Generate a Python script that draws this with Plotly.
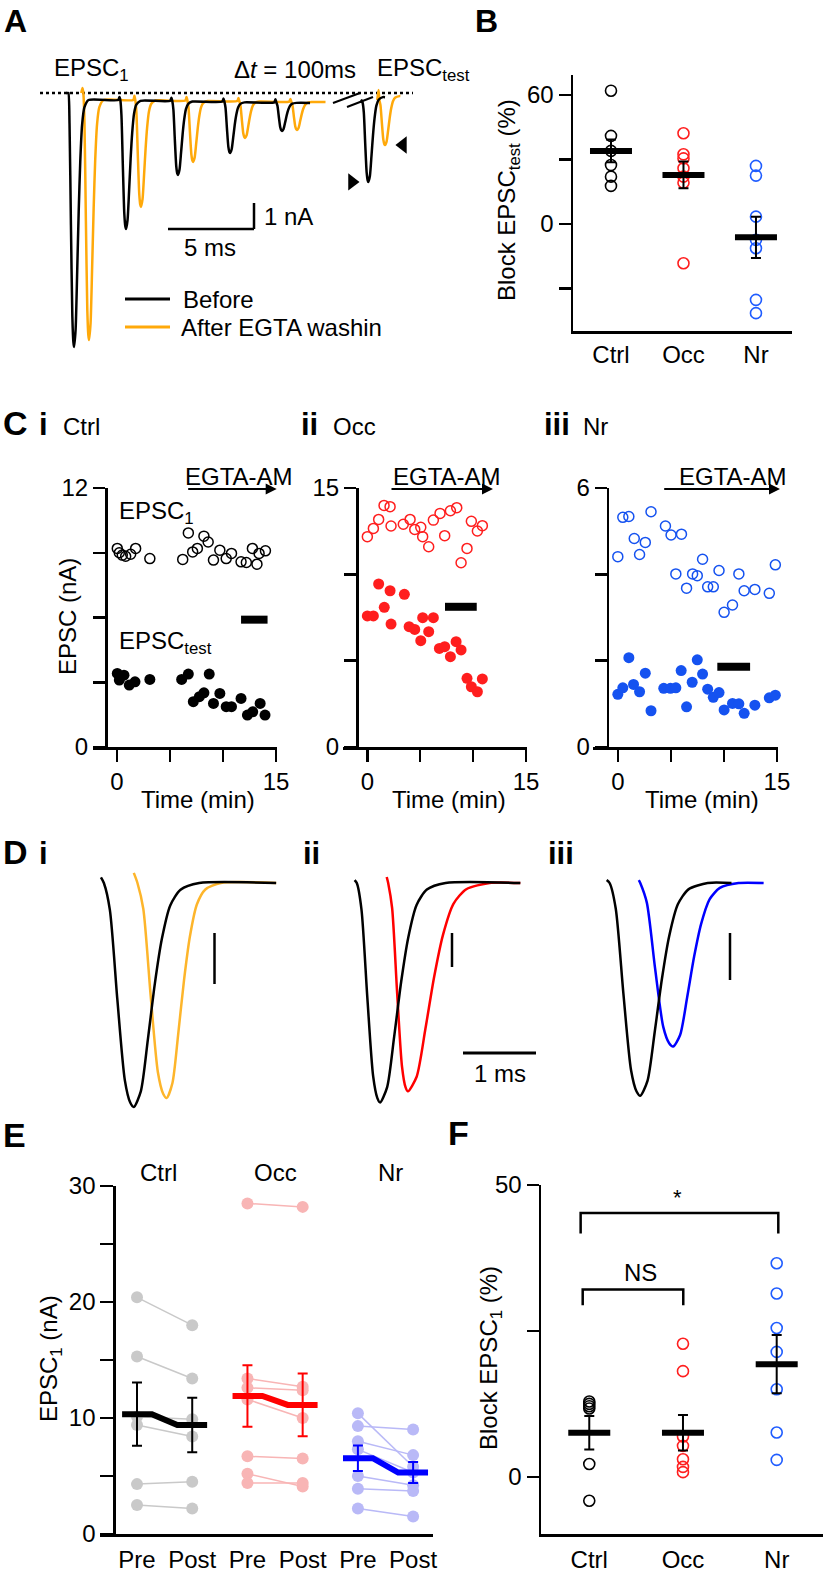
import plotly.graph_objects as go

W, H = 826, 1572
FONT = "Liberation Sans, Arial, Helvetica, sans-serif"
FS = 24

# ====================== DATA ======================
# --- Panel A: EPSC trains (peak time ms, amplitude nA, residual baseline nA, stim artifact nA)
a_black_peak = [1.98, 5.00, 8.02, 11.05, 14.07]
a_black_amp = [9.77, 5.23, 3.15, 2.31, 1.46]
a_black_base = [-0.27, -0.30, -0.33, -0.36, -0.38]
a_black_art = [0.0, 0.12, 0.12, 0.12, 0.12]
a_orange_peak = [2.85, 5.87, 8.90, 11.92, 14.94]
a_orange_amp = [9.50, 4.38, 2.65, 1.73, 1.42]
a_orange_base = [-0.27, -0.29, -0.31, -0.33, -0.35]
a_orange_art = [0.19, 0.16, 0.14, 0.12, 0.10]
a_test_peak = [19.09, 20.06]          # before, after
a_test_amp = [3.42, 2.00]
a_test_base_before = [-0.38, -0.27]
a_test_base_after = [-0.16, -0.12]
a_test_art = [0.10, 0.39]
a_train_end = [15.7, 16.6]
a_test_end = [20.06, 20.95]
a_legend = ["Before", "After EGTA washin"]

# normalised EPSC waveform (fraction of time / fraction of peak)
rise_u = [0.0, 0.2, 0.45, 0.7, 0.88, 1.0]
rise_f = [0.0, 0.12, 0.52, 0.88, 0.98, 1.0]
decay_v = [0.15, 0.3, 0.45, 0.6, 0.78, 1.0, 1.4]
decay_f = [0.93, 0.7, 0.45, 0.25, 0.1, 0.03, 0.0]

# --- Panel B: block of EPSC_test (%)
groups = ["Ctrl", "Occ", "Nr"]
b_ctrl = [62.0, 41.0, 34.0, 27.4, 22.0, 17.7]
b_occ = [42.2, 32.4, 30.5, 25.9, 22.0, 19.2, -18.3]
b_nr = [27.0, 22.5, 3.4, -7.4, -11.3, -35.3, -41.5]
b_mean = [34.0, 22.8, -6.2]
b_sem = [5.3, 6.2, 9.6]

# --- Panel C: time courses (min, nA)
ci_t1 = [0.03, 0.22, 0.5, 0.82, 1.29, 1.76, 3.1, 6.2, 6.73, 7.14, 7.58, 8.2, 8.6, 9.1, 9.7, 10.3, 10.8, 11.7, 12.2, 12.77, 13.2, 13.4, 14.0]
ci_y1 = [9.2, 9.0, 8.89, 8.84, 8.93, 9.2, 8.73, 8.69, 9.92, 9.04, 9.2, 9.77, 9.5, 8.66, 9.12, 8.73, 8.97, 8.58, 8.55, 9.2, 8.47, 8.97, 9.09]
ci_t2 = [0.03, 0.22, 0.66, 1.16, 1.7, 3.1, 6.1, 6.73, 8.7, 7.2, 7.77, 8.2, 9.1, 9.7, 10.3, 10.8, 11.7, 12.3, 12.8, 13.5, 13.96]
ci_y2 = [3.41, 3.1, 3.33, 2.87, 3.02, 3.13, 3.13, 3.38, 3.38, 2.1, 2.33, 2.51, 2.02, 2.48, 1.87, 1.87, 2.25, 1.48, 1.63, 2.02, 1.48]
ci_bar_t = [11.7, 14.2]
ci_bar_y = 5.9

cii_t1 = [0.0, 0.57, 1.07, 1.58, 2.15, 2.24, 3.4, 4.04, 4.48, 5.05, 5.23, 5.8, 6.24, 6.87, 7.31, 7.85, 8.45, 8.86, 9.42, 9.83, 10.4, 10.87]
cii_y1 = [12.18, 12.66, 13.18, 13.99, 13.92, 12.8, 12.9, 13.18, 12.6, 12.72, 12.18, 11.6, 13.14, 13.53, 12.24, 13.68, 13.86, 10.67, 11.5, 13.07, 12.51, 12.82]
cii_t2 = [0.0, 0.57, 1.07, 1.6, 2.15, 2.24, 3.5, 3.95, 4.48, 5.05, 5.23, 5.8, 6.24, 6.81, 7.31, 7.85, 8.39, 8.86, 9.42, 9.83, 10.4, 10.87]
cii_y2 = [7.59, 7.59, 9.44, 8.09, 9.05, 7.12, 8.84, 6.97, 6.81, 6.16, 7.49, 6.68, 7.49, 5.71, 5.81, 5.23, 6.1, 5.62, 3.98, 3.49, 3.2, 3.94]
cii_bar_t = [7.34, 10.34]
cii_bar_y = 8.12

ciii_t1 = [0.0, 0.47, 1.04, 1.55, 2.05, 2.59, 3.13, 4.49, 5.02, 6.0, 5.47, 6.48, 7.05, 7.49, 7.99, 8.47, 9.0, 9.54, 10.02, 10.81, 11.41, 11.91, 12.92, 14.28, 14.85]
ciii_y1 = [4.41, 5.32, 5.34, 4.83, 4.46, 4.74, 5.45, 5.12, 4.91, 4.93, 4.01, 3.68, 4.01, 3.97, 4.35, 3.71, 3.71, 4.09, 3.12, 3.29, 4.01, 3.62, 3.65, 3.56, 4.22]
ciii_t2 = [0.0, 0.47, 1.04, 1.48, 2.05, 2.59, 3.13, 4.33, 4.96, 5.47, 5.97, 6.48, 7.01, 7.49, 7.99, 8.47, 9.0, 9.54, 10.02, 10.81, 11.41, 11.91, 12.92, 14.28, 14.85]
ciii_y2 = [1.22, 1.37, 2.07, 1.45, 1.28, 1.71, 0.84, 1.36, 1.36, 1.37, 1.77, 0.93, 1.5, 2.02, 1.69, 1.34, 1.15, 1.26, 0.86, 1.01, 1.0, 0.78, 0.97, 1.14, 1.2]
ciii_bar_t = [9.38, 12.47]
ciii_bar_y = 1.86

# --- Panel D: normalised EPSC1 traces (ms, fraction)  order: i-before, i-after, ii-before, ii-after, iii-before, iii-after
d_start = [0.15, 0.60, 0.20, 0.64, 0.16, 0.60]
d_hook = [0.025, 0.045, 0.013, 0.027, 0.013, 0.013]
d_onset = [0.19, 0.65, 0.23, 0.66, 0.20, 0.62]
d_peak = [0.60, 1.05, 0.55, 0.93, 0.62, 1.07]
d_decay = [0.64, 0.53, 0.64, 0.80, 0.66, 0.64]
d_amp = [1.00, 0.96, 0.98, 0.93, 0.95, 0.73]
d_end = [2.55, 2.55, 2.47, 2.47, 1.87, 2.31]

# --- Panel E: EPSC1 (nA) pre / post
e_ctrl_pre = [20.4, 15.3, 10.1, 9.4, 4.3, 2.5]
e_ctrl_post = [18.0, 13.4, 9.9, 8.4, 4.5, 2.2]
e_occ_pre = [28.5, 13.4, 12.6, 11.6, 6.7, 5.2, 4.4]
e_occ_post = [28.2, 12.7, 12.4, 10.0, 6.5, 4.1, 4.4]
e_nr_pre = [10.4, 9.3, 8.0, 7.3, 5.0, 3.9, 2.2]
e_nr_post = [5.8, 9.0, 6.8, 5.3, 4.2, 3.7, 1.5]
e_mean_pre = [10.33, 11.9, 6.54]
e_mean_post = [9.4, 11.13, 5.3]
e_sem_pre = [2.72, 2.65, 1.1]
e_sem_post = [2.35, 2.7, 0.9]
e_xlabels = ["Pre", "Post", "Pre", "Post", "Pre", "Post"]

# --- Panel F: block of EPSC1 (%)
f_ctrl = [12.9, 12.5, 12.1, 11.7, 2.2, -4.1]
f_occ = [22.8, 18.1, 6.9, 5.3, 3.0, 1.7, 0.8]
f_nr = [36.6, 31.4, 25.5, 21.4, 15.0, 7.6, 2.9]
f_mean = [7.55, 7.55, 19.3]
f_sem = [2.85, 3.05, 5.0]

# ====================== STYLE ======================
BLACK = "#000000"
ORANGE = "#FFA90A"
ORANGE_D = "#FDB52B"
RED = "#FF1E1E"
BLUE = "#1F5CFF"
BLUE_C = "#1552F0"
GRAY_L = "#C9C9C9"
PINK_L = "#F8B5B5"
BLUE_L = "#B9B9F7"

fig = go.Figure()
L = dict(template="none", width=W, height=H,
         margin=dict(l=0, r=0, t=0, b=0, pad=0, autoexpand=False),
         paper_bgcolor="white", plot_bgcolor="rgba(0,0,0,0)",
         font=dict(family=FONT, size=FS, color="black"), showlegend=False)
ann, shp = [], []


def sfx(n):
    return "" if n == 1 else str(n)


def axes(n, xpx, ypx, xr, yr, xkw=None, ykw=None):
    s = sfx(n)
    xa = dict(domain=[xpx[0] / W, xpx[1] / W], range=xr, anchor="y" + s, showgrid=False,
              zeroline=False, fixedrange=True, visible=False, automargin=False)
    ya = dict(domain=[1 - ypx[1] / H, 1 - ypx[0] / H], range=yr, anchor="x" + s, showgrid=False,
              zeroline=False, fixedrange=True, visible=False, automargin=False)
    if xkw:
        xa.update(xkw)
        xa["visible"] = True
    if ykw:
        ya.update(ykw)
        ya["visible"] = True
    L["xaxis" + s] = xa
    L["yaxis" + s] = ya


AXL = dict(showline=True, linecolor="black", linewidth=2.5, ticks="outside", ticklen=12,
           tickwidth=2.5, tickcolor="black", tickfont=dict(family=FONT, size=FS, color="black"))


def add(n, **kw):
    s = sfx(n)
    kw.setdefault("showlegend", False)
    kw.setdefault("cliponaxis", False)
    kw.setdefault("hoverinfo", "skip")
    fig.add_trace(go.Scatter(xaxis="x" + s, yaxis="y" + s, **kw))


def text(x, y, t, size=FS, xa="center", ya="middle", angle=0, ref=None):
    if ref is None:
        d = dict(x=x / W, y=1 - y / H, xref="paper", yref="paper")
    else:
        s = sfx(ref)
        d = dict(x=x, y=y, xref="x" + s, yref="y" + s)
    ann.append(dict(text=t, showarrow=False, xanchor=xa, yanchor=ya, textangle=angle,
                    font=dict(family=FONT, size=size, color="black"), **d))


def pline(x0, y0, x1, y1, w=2.5, color="black", ref=None):
    if ref is None:
        d = dict(x0=x0 / W, x1=x1 / W, y0=1 - y0 / H, y1=1 - y1 / H, xref="paper", yref="paper")
    else:
        s = sfx(ref)
        d = dict(x0=x0, x1=x1, y0=y0, y1=y1, xref="x" + s, yref="y" + s)
    shp.append(dict(type="line", line=dict(color=color, width=w), layer="above", **d))


def epsc_train(peaks, amps, bases, arts, rise, decay, t_end, base0=0.0):
    xs, ys = [], []
    base = base0
    for pt, a, b1, ar in zip(peaks, amps, bases, arts):
        on = pt - rise
        xs += [on - 0.12, on - 0.05]
        ys += [base, base + ar]
        for u, f in zip(rise_u, rise_f):
            xs.append(on + u * rise)
            ys.append(base + f * (-a - base))
        for v, f in zip(decay_v, decay_f):
            xs.append(pt + v * decay)
            ys.append(b1 + f * (-a - b1))
        base = b1
    if t_end > xs[-1]:
        xs.append(t_end)
        ys.append(base)
    return xs, ys


# ====================== PANEL A ======================
A = 1
PXMS, PXNA = 17.2, 26.0
axes(A, (40, 420), (60, 360), [0, 380 / PXMS], [-(360 - 93) / PXNA, (93 - 60) / PXNA])
RISE_A, DECAY_A = 0.33, 0.6
bx, by = epsc_train(a_black_peak, a_black_amp, a_black_base, a_black_art, RISE_A, DECAY_A, a_train_end[0])
ox, oy = epsc_train(a_orange_peak, a_orange_amp, a_orange_base, a_orange_art, RISE_A, DECAY_A, a_train_end[1])
add(A, x=ox, y=oy, mode="lines", line=dict(color=ORANGE, width=2.5, shape="spline", smoothing=0.6),
    name=a_legend[1])
add(A, x=bx, y=by, mode="lines", line=dict(color=BLACK, width=2.5, shape="spline", smoothing=0.6),
    name=a_legend[0])
tcol = [BLACK, ORANGE]
for i in [1, 0]:
    tx, ty = epsc_train([a_test_peak[i]], [a_test_amp[i]], [a_test_base_after[i]], [a_test_art[i]],
                        RISE_A, DECAY_A, a_test_end[i], base0=a_test_base_before[i])
    add(A, x=tx, y=ty, mode="lines", line=dict(color=tcol[i], width=2.5, shape="spline", smoothing=0.6))
# arrowheads pointing at EPSC_test peaks
add(A, x=[a_test_peak[0] - 0.95], y=[-a_test_amp[0]], mode="markers",
    marker=dict(symbol="triangle-right", size=15, color="black"))
add(A, x=[a_test_peak[1] + 1.04], y=[-a_test_amp[1]], mode="markers",
    marker=dict(symbol="triangle-left", size=15, color="black"))
# dotted baseline
shp.append(dict(type="line", xref="x", yref="y", x0=0, x1=373 / PXMS, y0=0, y1=0,
                line=dict(color="black", width=2.5, dash="dot"), layer="below"))
# break marks
pline(333, 103, 360, 93, w=2)
pline(347, 107, 373, 97, w=2)
# scale bar 5 ms / 1 nA
sb_x0, sb_y = (168 - 40) / PXMS, -(229 - 93) / PXNA
pline(sb_x0, sb_y, sb_x0 + 5, sb_y, ref=A)
pline(sb_x0 + 5, sb_y, sb_x0 + 5, sb_y + 1, ref=A)
text(262, 216, "1 nA", xa="left")
text(210, 248, "5 ms")
text(52, 70, "EPSC<sub>1</sub>", xa="left")
text(232, 70, "Δ<i>t</i> = 100ms", xa="left")
text(375, 70, "EPSC<sub>test</sub>", xa="left")
text(2, 1, "<b>A</b>", size=32, xa="left", ya="top")
# legend
pline(125, 299, 170, 299, w=3, color=BLACK)
pline(125, 327, 170, 327, w=3, color=ORANGE)
text(181, 299, a_legend[0], xa="left")
text(179, 327, a_legend[1], xa="left")

# ====================== PANEL B ======================
axes(2, (573, 792), (75, 331), [-0.524, 2.497], [-49.8, 69.3],
     xkw=dict(AXL, ticks="", tickvals=[0, 1, 2], ticktext=groups, ticklabelstandoff=1),
     ykw=dict(AXL, tickvals=[-30, 0, 30, 60], ticktext=["", "0", "", "60"]))
for gi, (vals, col) in enumerate(zip([b_ctrl, b_occ, b_nr], [BLACK, RED, BLUE])):
    add(2, x=[gi] * len(vals), y=vals, mode="markers",
        marker=dict(symbol="circle-open", size=11, color=col, line=dict(width=1.6, color=col)))
add(2, x=[0, 1, 2], y=b_mean, mode="markers",
    marker=dict(symbol="line-ew", size=30, color="black", line=dict(width=6, color="black")),
    error_y=dict(type="data", array=b_sem, color="black", thickness=2, width=5))
text(508, 200, "Block EPSC<sub>test</sub> (%)", angle=-90)
text(473, 1, "<b>B</b>", size=32, xa="left", ya="top")

# ====================== PANEL C ======================
axes(3, (93, 277), (488, 747), [-2.26, 15.09], [0, 12],
     xkw=dict(AXL, tickvals=[0, 5, 10, 15], ticktext=["0", "", "", "15"]),
     ykw=dict(AXL, anchor="free", position=106 / W, tickvals=[0, 3, 6, 9, 12], ticktext=["0", "", "", "", "12"]))
axes(4, (343, 527), (488, 747), [-2.3, 15.09], [0, 15],
     xkw=dict(AXL, tickvals=[0, 5, 10, 15], ticktext=["0", "", "", "15"]),
     ykw=dict(AXL, anchor="free", position=357 / W, tickvals=[0, 5, 10, 15], ticktext=["0", "", "", "15"]))
axes(5, (593, 778), (488, 747), [-2.34, 15.1], [0, 6],
     xkw=dict(AXL, tickvals=[0, 5, 10, 15], ticktext=["0", "", "", "15"]),
     ykw=dict(AXL, anchor="free", position=607.7 / W, tickvals=[0, 2, 4, 6], ticktext=["0", "", "", "6"]))
cdata = [(3, ci_t1, ci_y1, ci_t2, ci_y2, ci_bar_t, ci_bar_y, BLACK),
         (4, cii_t1, cii_y1, cii_t2, cii_y2, cii_bar_t, cii_bar_y, RED),
         (5, ciii_t1, ciii_y1, ciii_t2, ciii_y2, ciii_bar_t, ciii_bar_y, BLUE_C)]
for n, t1, y1, t2, y2, bt, byv, col in cdata:
    add(n, x=t1, y=y1, mode="markers",
        marker=dict(symbol="circle-open", size=10, color=col, line=dict(width=1.5, color=col)))
    add(n, x=t2, y=y2, mode="markers", marker=dict(symbol="circle", size=11, color=col, line=dict(width=0)))
    add(n, x=bt, y=[byv, byv], mode="lines", line=dict(color="black", width=8))
# EGTA-AM arrows
for xs, xe, xt in [(186.7, 276.7, 239), (390, 493, 447), (662.7, 780, 733)]:
    ann.append(dict(x=xe / W, y=1 - 489 / H, xref="paper", yref="paper", ax=xs - xe, ay=0,
                    axref="pixel", ayref="pixel", text="", showarrow=True, arrowhead=2,
                    arrowsize=1.1, arrowwidth=2, arrowcolor="black"))
    text(xt, 476, "EGTA-AM")
text(117, 512, "EPSC<sub>1</sub>", xa="left")
text(117, 643, "EPSC<sub>test</sub>", xa="left")
text(68, 617, "EPSC (nA)", angle=-90)
for xc in [198, 449, 702]:
    text(xc, 799, "Time (min)")
text(1, 423, "<b>C</b>", size=34, xa="left")
text(37, 424, "<b>i</b>", size=31, xa="left")
text(61, 426, "Ctrl", size=24, xa="left")
text(299, 424, "<b>ii</b>", size=31, xa="left")
text(331, 426, "Occ", size=24, xa="left")
text(542, 424, "<b>iii</b>", size=31, xa="left")
text(581, 426, "Nr", size=24, xa="left")

# ====================== PANEL D ======================
PXMS_D, PXU_D = 73.0, 224.0
d_dom = [(90, 290), (340, 545), (595, 790)]
for k, (x0, x1) in enumerate(d_dom):
    axes(6 + k, (x0, x1), (855, 1120), [0, (x1 - x0) / PXMS_D], [-(1120 - 883) / PXU_D, (883 - 855) / PXU_D])
d_cols = [BLACK, ORANGE_D, BLACK, "#FF0000", BLACK, "#0000FF"]
for j in [1, 0, 3, 2, 5, 4]:
    n = 6 + j // 2
    on, pk, dc, am = d_onset[j], d_peak[j], d_decay[j], d_amp[j]
    xs, ys = [d_start[j], on], [d_hook[j], 0.0]
    for u, f in zip(rise_u[1:], rise_f[1:]):
        xs.append(on + u * (pk - on))
        ys.append(-f * am)
    for v, f in zip(decay_v, decay_f):
        xs.append(pk + v * dc)
        ys.append(-f * am)
    if d_end[j] > xs[-1]:
        xs.append(d_end[j])
        ys.append(0.0)
    add(n, x=xs, y=ys, mode="lines", line=dict(color=d_cols[j], width=2.5, shape="spline", smoothing=0.7))
# vertical scale bars
for n, xpx, y0, y1, x0 in [(6, 214.5, 933, 984, 90), (7, 452, 933, 967, 340), (8, 730, 933, 980, 595)]:
    pline((xpx - x0) / PXMS_D, (883 - y0) / PXU_D, (xpx - x0) / PXMS_D, (883 - y1) / PXU_D, ref=n)
# 1 ms bar
hb_x0 = (463 - 340) / PXMS_D
hb_y = (883 - 1053) / PXU_D
pline(hb_x0, hb_y, hb_x0 + 1.0, hb_y, w=3, ref=7)
text(500, 1073, "1 ms")
text(1, 852, "<b>D</b>", size=34, xa="left")
text(37, 853, "<b>i</b>", size=31, xa="left")
text(301, 853, "<b>ii</b>", size=31, xa="left")
text(546, 853, "<b>iii</b>", size=31, xa="left")

# ====================== PANEL E ======================
axes(9, (100, 433), (1186, 1534), [0.33, 6.36], [0, 30],
     xkw=dict(AXL, ticks="", tickvals=[1, 2, 3, 4, 5, 6], ticktext=e_xlabels, ticklabelstandoff=3),
     ykw=dict(AXL, anchor="free", position=114.3 / W, ticklen=13, tickvals=[0, 5, 10, 15, 20, 25, 30],
              ticktext=["0", "", "10", "", "20", "", "30"]))
e_sets = [(e_ctrl_pre, e_ctrl_post, GRAY_L, BLACK), (e_occ_pre, e_occ_post, PINK_L, "#FF0000"),
          (e_nr_pre, e_nr_post, BLUE_L, "#0000FF")]
for gi, (pre, post, lc, mc) in enumerate(e_sets):
    xp, xq = 1 + 2 * gi, 2 + 2 * gi
    for a, b in zip(pre, post):
        add(9, x=[xp, xq], y=[a, b], mode="lines+markers", line=dict(color=lc, width=1.5),
            marker=dict(size=12, color=lc))
for gi, (pre, post, lc, mc) in enumerate(e_sets):
    xp, xq = 1 + 2 * gi, 2 + 2 * gi
    hw = 0.27
    add(9, x=[xp, xq], y=[e_mean_pre[gi], e_mean_post[gi]], mode="markers", marker=dict(size=1, opacity=0),
        error_y=dict(type="data", array=[e_sem_pre[gi], e_sem_post[gi]], color=mc, thickness=2, width=5))
    add(9, x=[xp - hw, xp + hw, xq - hw, xq + hw],
        y=[e_mean_pre[gi], e_mean_pre[gi], e_mean_post[gi], e_mean_post[gi]],
        mode="lines", line=dict(color=mc, width=6))
text(50, 1359, "EPSC<sub>1</sub> (nA)", angle=-90)
for xc, g in zip([158, 275, 390], groups):
    text(xc, 1172, g)
text(1, 1135, "<b>E</b>", size=34, xa="left")

# ====================== PANEL F ======================
axes(10, (541, 823), (1185, 1534), [-0.515, 2.494], [-9.8, 50],
     xkw=dict(AXL, ticks="", tickvals=[0, 1, 2], ticktext=groups, ticklabelstandoff=3),
     ykw=dict(AXL, tickvals=[0, 25, 50], ticktext=["0", "", "50"]))
for gi, (vals, col) in enumerate(zip([f_ctrl, f_occ, f_nr], [BLACK, RED, BLUE])):
    add(10, x=[gi] * len(vals), y=vals, mode="markers",
        marker=dict(symbol="circle-open", size=11, color=col, line=dict(width=1.6, color=col)))
add(10, x=[0, 1, 2], y=f_mean, mode="markers",
    marker=dict(symbol="line-ew", size=30, color="black", line=dict(width=6, color="black")),
    error_y=dict(type="data", array=f_sem, color="black", thickness=2, width=5))
# significance brackets
for x0, x1, yt, yl in [(-0.092, 2.017, 45.2, 41.7), (-0.07, 1.003, 32.1, 29.4)]:
    shp.append(dict(type="path", xref="x10", yref="y10",
                    path="M %f,%f L %f,%f L %f,%f L %f,%f" % (x0, yl, x0, yt, x1, yt, x1, yl),
                    line=dict(color="black", width=2.5)))
text(677, 1197, "*", size=22)
text(640, 1272, "NS", size=24)
text(490, 1358, "Block EPSC<sub>1</sub> (%)", angle=-90)
text(446, 1133, "<b>F</b>", size=34, xa="left")

L["annotations"] = ann
L["shapes"] = shp
fig.update_layout(**L)
fig.write_html("out.html", config={"displayModeBar": False, "staticPlot": True},
               post_script="document.body.style.margin='0px';document.body.style.overflow='hidden';")
